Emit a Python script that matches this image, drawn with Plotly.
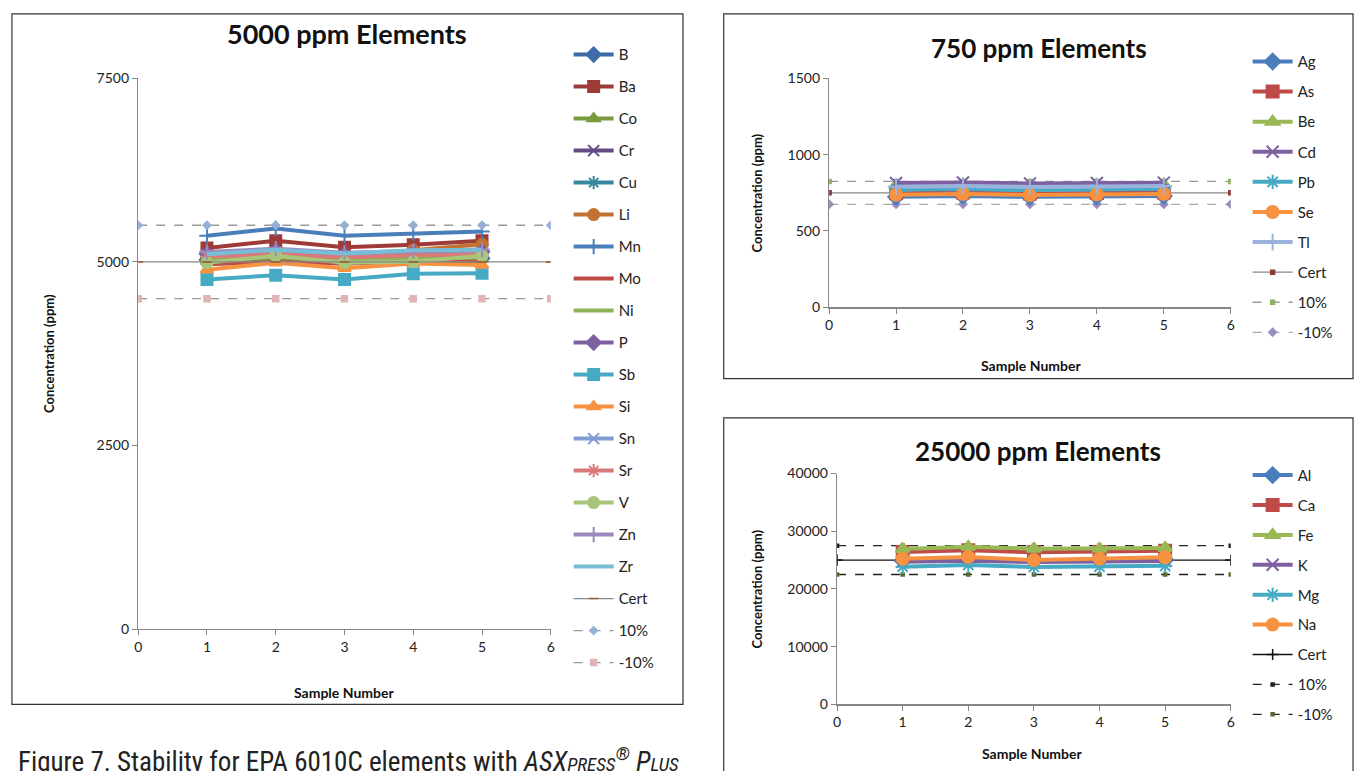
import plotly.graph_objects as go

W, H = 1360, 771
def px(x): return x / W
def py(y): return (H - y) / H

samples = [1, 2, 3, 4, 5]
ref_x = [0, 1, 2, 3, 4, 5, 6]

# ---- 5000 ppm elements ----
el5000 = ["B", "Ba", "Co", "Cr", "Cu", "Li", "Mn", "Mo", "Ni", "P", "Sb", "Si", "Sn", "Sr", "V", "Zn", "Zr"]
v5000 = {
    "B":  [5030, 5060, 5020, 5040, 5050],
    "Ba": [5190, 5290, 5200, 5235, 5290],
    "Co": [5010, 5050, 5000, 5020, 5040],
    "Cr": [5040, 5080, 5030, 5060, 5070],
    "Cu": [5060, 5100, 5050, 5080, 5090],
    "Li": [5050, 5120, 5060, 5160, 5240],
    "Mn": [5358, 5455, 5358, 5393, 5415],
    "Mo": [4970, 5000, 4980, 4995, 5010],
    "Ni": [5040, 5070, 5030, 5050, 5060],
    "P":  [5110, 5150, 5100, 5120, 5140],
    "Sb": [4761, 4820, 4761, 4841, 4845],
    "Si": [4895, 4990, 4915, 4980, 4960],
    "Sn": [5090, 5130, 5080, 5100, 5120],
    "Sr": [5070, 5110, 5060, 5090, 5100],
    "V":  [4990, 5084, 4991, 5004, 5084],
    "Zn": [5137, 5180, 5125, 5150, 5170],
    "Zr": [5106, 5168, 5115, 5160, 5168],
}
cert5000 = [5000] * 7
p10_5000 = [5500] * 7
m10_5000 = [4500] * 7

# ---- 750 ppm elements ----
el750 = ["Ag", "As", "Be", "Cd", "Pb", "Se", "Tl"]
v750 = {
    "Ag": [725, 730, 724, 726, 730],
    "As": [748, 752, 746, 749, 752],
    "Be": [800, 805, 798, 802, 805],
    "Cd": [815, 818, 812, 815, 817],
    "Pb": [770, 775, 768, 772, 775],
    "Se": [738, 742, 736, 739, 742],
    "Tl": [790, 795, 788, 792, 795],
}
cert750 = [750] * 7
p10_750 = [825] * 7
m10_750 = [675] * 7

# ---- 25000 ppm elements ----
el25000 = ["Al", "Ca", "Fe", "K", "Mg", "Na"]
v25000 = {
    "Al": [24900, 25100, 24850, 24950, 25050],
    "Ca": [26400, 26700, 26350, 26400, 26600],
    "Fe": [26900, 27300, 26950, 26950, 27100],
    "K":  [24700, 24900, 24650, 24750, 24850],
    "Mg": [23850, 24150, 23800, 23850, 24000],
    "Na": [25250, 25550, 25000, 25250, 25500],
}
cert25000 = [25000] * 7
p10_25000 = [27500] * 7
m10_25000 = [22500] * 7

sty5000 = {
    "B":  ("#3E6AA9", "diamond"),
    "Ba": ("#9E3B38", "square"),
    "Co": ("#7A9A3E", "triangle-up"),
    "Cr": ("#634B84", "x-thin-open"),
    "Cu": ("#35889D", "asterisk-open"),
    "Li": ("#C3722F", "circle"),
    "Mn": ("#4A7EBB", "cross-thin-open"),
    "Mo": ("#BE4B48", None),
    "Ni": ("#8CB356", None),
    "P":  ("#7D60A0", "diamond"),
    "Sb": ("#46AAC5", "square"),
    "Si": ("#F69240", "triangle-up"),
    "Sn": ("#7E9DD0", "x-thin-open"),
    "Sr": ("#D97A78", "asterisk-open"),
    "V":  ("#A8C57A", "circle"),
    "Zn": ("#9B88BC", "cross-thin-open"),
    "Zr": ("#78BDD6", None),
}
sty750 = {
    "Ag": ("#4A7EBB", "diamond"),
    "As": ("#BE4B48", "square"),
    "Be": ("#98B954", "triangle-up"),
    "Cd": ("#7D60A0", "x-thin-open"),
    "Pb": ("#46AAC5", "asterisk-open"),
    "Se": ("#F69240", "circle"),
    "Tl": ("#9BB3DC", "cross-thin-open"),
}
sty25000 = {
    "Al": ("#4A7EBB", "diamond"),
    "Ca": ("#BE4B48", "square"),
    "Fe": ("#98B954", "triangle-up"),
    "K":  ("#7D60A0", "x-thin-open"),
    "Mg": ("#46AAC5", "asterisk-open"),
    "Na": ("#F69240", "circle"),
}

fig = go.Figure()

def add_series(name, x, y, color, symbol, xa, ya, leg, rank, size=11, width=4):
    mode = "lines+markers" if symbol else "lines"
    mk = dict(symbol=symbol or "circle", size=size, color=color,
              line=dict(color=color, width=2))
    fig.add_trace(go.Scatter(x=x, y=y, name=name, mode=mode, xaxis=xa, yaxis=ya,
                             legend=leg, legendgroup=leg + name, legendrank=rank,
                             line=dict(color=color, width=width), marker=mk))

def add_ref(name, x, y, lcolor, dash, mcolor, msym, msize, xa, ya, leg, rank, lw=1.3):
    fig.add_trace(go.Scatter(x=x, y=y, name=name, mode="lines+markers", xaxis=xa, yaxis=ya,
                             legend=leg, legendgroup=leg + name, legendrank=rank,
                             line=dict(color=lcolor, width=lw, dash=dash),
                             marker=dict(symbol=msym, size=msize, color=mcolor,
                                         line=dict(color=mcolor, width=1.5))))

# left chart (x, y)
for i, e in enumerate(el5000):
    c, s = sty5000[e]
    add_series(e, samples, v5000[e], c, s, "x", "y", "legend", i + 1)
n = len(el5000)
add_ref("Cert", ref_x, cert5000, "#888888", "solid", "#9A5A2A", "line-ew", 7, "x", "y", "legend", n + 1)
add_ref("10%", ref_x, p10_5000, "#999999", "dash", "#95AFD6", "diamond", 6, "x", "y", "legend", n + 2)
add_ref("-10%", ref_x, m10_5000, "#999999", "dash", "#E2B4B4", "square", 6, "x", "y", "legend", n + 3)

# top right (x2, y2)
n = len(el750)
add_ref("Cert", ref_x, cert750, "#888888", "solid", "#8B3A3A", "square", 4, "x2", "y2", "legend2", n + 1)
add_ref("10%", ref_x, p10_750, "#999999", "dash", "#8FB060", "square", 4, "x2", "y2", "legend2", n + 2)
add_ref("-10%", ref_x, m10_750, "#AAAAAA", "dash", "#9B8CBF", "diamond", 6, "x2", "y2", "legend2", n + 3)
for i, e in enumerate(el750):
    c, s = sty750[e]
    add_series(e, samples, v750[e], c, s, "x2", "y2", "legend2", i + 1, size=12)

# bottom right (x3, y3)
n = len(el25000)
add_ref("Cert", ref_x, cert25000, "#111111", "solid", "#111111", "cross-thin-open", 8, "x3", "y3", "legend3", n + 1)
add_ref("10%", ref_x, p10_25000, "#222222", "dash", "#222222", "square", 3, "x3", "y3", "legend3", n + 2)
add_ref("-10%", ref_x, m10_25000, "#222222", "dash", "#556B2F", "square", 3, "x3", "y3", "legend3", n + 3)
for i, e in enumerate(el25000):
    c, s = sty25000[e]
    add_series(e, samples, v25000[e], c, s, "x3", "y3", "legend3", i + 1, size=12)

FONT = "Lato, 'Open Sans', sans-serif"
axis_common = dict(showgrid=False, zeroline=False, showline=True, linecolor="#868686",
                   linewidth=1.3, ticks="outside", ticklen=5, tickcolor="#868686",
                   tickformat="d",
                   tickfont=dict(family=FONT, size=14, color="#222222"))

def leg(x, y, gap):
    return dict(x=px(x), y=py(y), xanchor="left", yanchor="top", traceorder="grouped",
                tracegroupgap=gap, font=dict(family=FONT, size=15, color="#222222"),
                bgcolor="rgba(0,0,0,0)", itemwidth=40)

fig.update_layout(
    width=W, height=H, margin=dict(l=0, r=0, t=0, b=0),
    paper_bgcolor="white", plot_bgcolor="white", hovermode=False,
    xaxis=dict(domain=[px(135), px(550)], range=[0, 6], dtick=1, anchor="y", **axis_common),
    yaxis=dict(domain=[py(634), py(71)], range=[0, 7500], dtick=2500, anchor="x", **axis_common),
    xaxis2=dict(domain=[px(830), px(1234)], range=[0, 6], dtick=1, anchor="y2", **axis_common),
    yaxis2=dict(domain=[py(305), py(71)], range=[0, 1500], dtick=500, anchor="x2", **axis_common),
    xaxis3=dict(domain=[px(838), px(1234)], range=[0, 6], dtick=1, anchor="y3", **axis_common),
    yaxis3=dict(domain=[py(711), py(475)], range=[0, 40000], dtick=10000, anchor="x3", **axis_common),
    legend=leg(568, 30, 9.5),
    legend2=leg(1251, 37, 7.6),
    legend3=leg(1251, 460, 7.4),
    showlegend=True,
)

shapes = []
for (x0, y0, x1, y1) in [(8, 5, 683, 711), (724, 5, 1357, 378), (724, 418, 1357, 800)]:
    shapes.append(dict(type="rect", xref="paper", yref="paper",
                       x0=px(x0), x1=px(x1), y0=py(y1), y1=py(y0),
                       line=dict(color="#333333", width=1.2)))
fig.update_layout(shapes=shapes)

ann = []
def text(t, x, y, size, bold=False, angle=0, xanchor="center", family=FONT, color="#111111"):
    ann.append(dict(text=("<b>%s</b>" % t) if bold else t, x=px(x), y=py(y), xref="paper", yref="paper",
                    showarrow=False, xanchor=xanchor, yanchor="middle", textangle=angle,
                    font=dict(family=family, size=size, color=color)))

text("5000 ppm Elements", 345, 25, 27, bold=True)
text("750 ppm Elements", 1041, 40, 26, bold=True)
text("25000 ppm Elements", 1040, 452, 26, bold=True)
text("Concentration (ppm)", 46, 352, 13, bold=True, angle=-90)
text("Concentration (ppm)", 757, 188, 13, bold=True, angle=-90)
text("Concentration (ppm)", 757, 593, 13, bold=True, angle=-90)
text("Sample Number", 342, 699, 14, bold=True)
text("Sample Number", 1033, 365, 14, bold=True)
text("Sample Number", 1034, 761, 14, bold=True)
text("Figure 7. Stability for EPA 6010C elements with <i>ASX<span style='font-size:19px'>PRESS</span><sup>®</sup> P<span style='font-size:19px'>LUS</span></i>",
     12, 768, 27, xanchor="left", family="'Liberation Sans Narrow', 'Roboto Condensed', 'Roboto', sans-serif", color="#222222")
fig.update_layout(annotations=ann)

post = ("document.documentElement.style.margin='0';document.documentElement.style.padding='0';"
        "document.documentElement.style.overflow='hidden';"
        "document.body.style.margin='0';document.body.style.padding='0';"
        "document.body.style.overflow='hidden';")
fig.write_html("out.html", post_script=post, config={"displayModeBar": False, "staticPlot": True})
